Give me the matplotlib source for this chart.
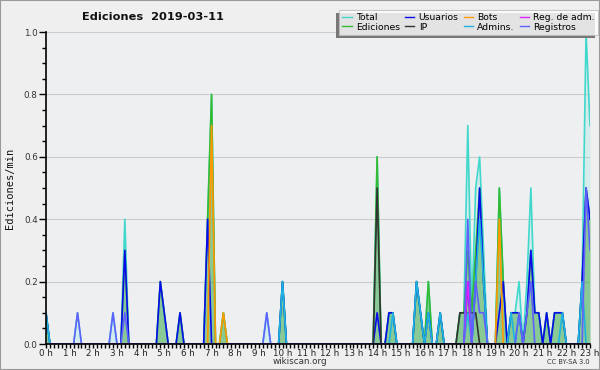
import numpy as np
import matplotlib
matplotlib.use("Agg")
import matplotlib.pyplot as plt
from matplotlib.patches import Rectangle

# 10-minute bins, 0h00 .. 23h00 (139 points), values in edits/min
total = [
    .1, 0, 0, 0, 0, 0, 0, 0, .1, 0, 0, 0,
    0, 0, 0, 0, 0, .1, 0, 0, .4, 0, 0, 0,
    0, 0, 0, 0, 0, .2, .1, 0, 0, 0, .1, 0,
    0, 0, 0, 0, 0, .4, .8, 0, 0, .1, 0, 0,
    0, 0, 0, 0, 0, 0, 0, 0, .1, 0, 0, 0,
    .2, 0, 0, 0, 0, 0, 0, 0, 0, 0, 0, 0,
    0, 0, 0, 0, 0, 0, 0, 0, 0, 0, 0, 0,
    .6, 0, 0, .1, .1, 0, 0, 0, 0, 0, .2, .1,
    0, .2, 0, 0, .1, 0, 0, 0, 0, .1, .1, .7,
    .1, .5, .6, .3, 0, 0, 0, .5, .2, 0, .1, .1,
    .2, 0, .2, .5, .1, .1, 0, .1, 0, .1, .1, .1,
    0, 0, 0, 0, .2, 1.0, .7]
ediciones = [
    .1, 0, 0, 0, 0, 0, 0, 0, 0, 0, 0, 0,
    0, 0, 0, 0, 0, 0, 0, 0, .3, 0, 0, 0,
    0, 0, 0, 0, 0, .2, .1, 0, 0, 0, .1, 0,
    0, 0, 0, 0, 0, .4, .8, 0, 0, .1, 0, 0,
    0, 0, 0, 0, 0, 0, 0, 0, 0, 0, 0, 0,
    .2, 0, 0, 0, 0, 0, 0, 0, 0, 0, 0, 0,
    0, 0, 0, 0, 0, 0, 0, 0, 0, 0, 0, 0,
    .6, 0, 0, .1, .1, 0, 0, 0, 0, 0, .2, .1,
    0, .2, 0, 0, .1, 0, 0, 0, 0, .1, .1, .3,
    .1, .3, .5, .2, 0, 0, 0, .5, .2, 0, .1, .1,
    .1, 0, .1, .3, .1, .1, 0, .1, 0, .1, .1, .1,
    0, 0, 0, 0, .2, .5, .4]
usuarios = [
    .1, 0, 0, 0, 0, 0, 0, 0, 0, 0, 0, 0,
    0, 0, 0, 0, 0, 0, 0, 0, .3, 0, 0, 0,
    0, 0, 0, 0, 0, .2, .1, 0, 0, 0, .1, 0,
    0, 0, 0, 0, 0, .4, 0, 0, 0, 0, 0, 0,
    0, 0, 0, 0, 0, 0, 0, 0, 0, 0, 0, 0,
    .2, 0, 0, 0, 0, 0, 0, 0, 0, 0, 0, 0,
    0, 0, 0, 0, 0, 0, 0, 0, 0, 0, 0, 0,
    .1, 0, 0, .1, .1, 0, 0, 0, 0, 0, .2, .1,
    0, .1, 0, 0, .1, 0, 0, 0, 0, 0, 0, .2,
    0, .2, .5, .2, 0, 0, 0, .1, .2, 0, .1, .1,
    .1, 0, .1, .3, .1, .1, 0, .1, 0, .1, .1, .1,
    0, 0, 0, 0, .2, .5, .4]
ip = [
    0, 0, 0, 0, 0, 0, 0, 0, 0, 0, 0, 0,
    0, 0, 0, 0, 0, 0, 0, 0, 0, 0, 0, 0,
    0, 0, 0, 0, 0, 0, 0, 0, 0, 0, 0, 0,
    0, 0, 0, 0, 0, 0, 0, 0, 0, 0, 0, 0,
    0, 0, 0, 0, 0, 0, 0, 0, 0, 0, 0, 0,
    0, 0, 0, 0, 0, 0, 0, 0, 0, 0, 0, 0,
    0, 0, 0, 0, 0, 0, 0, 0, 0, 0, 0, 0,
    .5, 0, 0, 0, 0, 0, 0, 0, 0, 0, 0, 0,
    0, 0, 0, 0, 0, 0, 0, 0, 0, .1, .1, .1,
    .1, .1, 0, 0, 0, 0, 0, 0, 0, 0, 0, 0,
    0, 0, 0, 0, 0, 0, 0, 0, 0, 0, 0, 0,
    0, 0, 0, 0, 0, 0, 0]
bots = [
    0, 0, 0, 0, 0, 0, 0, 0, 0, 0, 0, 0,
    0, 0, 0, 0, 0, 0, 0, 0, 0, 0, 0, 0,
    0, 0, 0, 0, 0, 0, 0, 0, 0, 0, 0, 0,
    0, 0, 0, 0, 0, 0, .7, 0, 0, .1, 0, 0,
    0, 0, 0, 0, 0, 0, 0, 0, 0, 0, 0, 0,
    0, 0, 0, 0, 0, 0, 0, 0, 0, 0, 0, 0,
    0, 0, 0, 0, 0, 0, 0, 0, 0, 0, 0, 0,
    0, 0, 0, 0, 0, 0, 0, 0, 0, 0, 0, 0,
    0, 0, 0, 0, 0, 0, 0, 0, 0, 0, 0, 0,
    0, 0, 0, 0, 0, 0, 0, .4, 0, 0, 0, 0,
    0, 0, 0, 0, 0, 0, 0, 0, 0, 0, 0, 0,
    0, 0, 0, 0, 0, 0, 0]
admins = [
    .1, 0, 0, 0, 0, 0, 0, 0, 0, 0, 0, 0,
    0, 0, 0, 0, 0, 0, 0, 0, 0, 0, 0, 0,
    0, 0, 0, 0, 0, 0, 0, 0, 0, 0, 0, 0,
    0, 0, 0, 0, 0, 0, 0, 0, 0, 0, 0, 0,
    0, 0, 0, 0, 0, 0, 0, 0, 0, 0, 0, 0,
    .2, 0, 0, 0, 0, 0, 0, 0, 0, 0, 0, 0,
    0, 0, 0, 0, 0, 0, 0, 0, 0, 0, 0, 0,
    0, 0, 0, 0, .1, 0, 0, 0, 0, 0, .2, .1,
    0, .1, 0, 0, .1, 0, 0, 0, 0, 0, 0, .1,
    0, .2, .4, .2, 0, 0, 0, 0, 0, 0, .1, 0,
    .1, 0, 0, 0, 0, 0, 0, 0, 0, 0, 0, .1,
    0, 0, 0, 0, .2, 0, 0]
reg_adm = [
    0, 0, 0, 0, 0, 0, 0, 0, 0, 0, 0, 0,
    0, 0, 0, 0, 0, 0, 0, 0, 0, 0, 0, 0,
    0, 0, 0, 0, 0, 0, 0, 0, 0, 0, 0, 0,
    0, 0, 0, 0, 0, 0, 0, 0, 0, 0, 0, 0,
    0, 0, 0, 0, 0, 0, 0, 0, 0, 0, 0, 0,
    0, 0, 0, 0, 0, 0, 0, 0, 0, 0, 0, 0,
    0, 0, 0, 0, 0, 0, 0, 0, 0, 0, 0, 0,
    0, 0, 0, 0, 0, 0, 0, 0, 0, 0, 0, 0,
    0, 0, 0, 0, 0, 0, 0, 0, 0, 0, 0, .2,
    0, 0, 0, 0, 0, 0, 0, 0, 0, 0, 0, 0,
    0, 0, 0, 0, 0, 0, 0, 0, 0, 0, 0, 0,
    0, 0, 0, 0, 0, 0, 0]
registros = [
    0, 0, 0, 0, 0, 0, 0, 0, .1, 0, 0, 0,
    0, 0, 0, 0, 0, .1, 0, 0, .1, 0, 0, 0,
    0, 0, 0, 0, 0, 0, 0, 0, 0, 0, 0, 0,
    0, 0, 0, 0, 0, 0, 0, 0, 0, 0, 0, 0,
    0, 0, 0, 0, 0, 0, 0, 0, .1, 0, 0, 0,
    0, 0, 0, 0, 0, 0, 0, 0, 0, 0, 0, 0,
    0, 0, 0, 0, 0, 0, 0, 0, 0, 0, 0, 0,
    0, 0, 0, 0, 0, 0, 0, 0, 0, 0, 0, 0,
    0, 0, 0, 0, 0, 0, 0, 0, 0, 0, 0, .4,
    0, .2, .1, .1, 0, 0, 0, 0, 0, 0, 0, 0,
    .1, 0, .1, .2, 0, 0, 0, 0, 0, 0, 0, 0,
    0, 0, 0, 0, 0, .5, .3]

hour_labels = [f"{h} h" for h in range(24)]
title = "Ediciones  2019-03-11"
ylabel = "Ediciones/min"

hours = np.arange(len(total)) / 6.0

BG = "#efefef"
fig = plt.figure(figsize=(6, 3.7), dpi=100, facecolor=BG)
ax = fig.add_axes([46/600, 1 - 344/370, 544/600, 312/370])
ax.set_facecolor("#eeeff1")

ax.fill_between(hours, total, color="#40e0d0", alpha=0.15, lw=0)
ax.plot(hours, total, color="#40d8cc", lw=1.2, label="Total")
ax.fill_between(hours, ediciones, color="#2ca02c", alpha=0.45, lw=0)
ax.plot(hours, ediciones, color="#33bb33", lw=1.2, label="Ediciones")
ax.plot(hours, usuarios, color="#0a0aee", lw=1.2, label="Usuarios")
ax.plot(hours, ip, color="#333333", lw=1.2, label="IP")
ax.plot(hours, bots, color="#ff9900", lw=1.2, label="Bots")
ax.plot(hours, admins, color="#1eb4e0", lw=1.2, label="Admins.")
ax.plot(hours, reg_adm, color="#dd22ff", lw=1.2, label="Reg. de adm.")
ax.plot(hours, registros, color="#6060ff", lw=1.2, label="Registros")

ax.set_xlim(0, 23)
ax.set_ylim(0, 1.0)
ax.set_xticks(range(24))
ax.set_xticklabels(hour_labels, fontsize=6.3, color="#222222")
ax.set_xticks(np.arange(0, 23.01, 1/6), minor=True)
ax.set_yticks(np.arange(0, 1.01, 0.2))
ax.set_yticklabels([f"{v:.1f}" for v in np.arange(0, 1.01, 0.2)], fontsize=6.3, color="#333333")
ax.set_yticks(np.arange(0, 1.001, 0.05), minor=True)
ax.tick_params(axis="x", which="major", length=3, width=1, pad=0.5)
ax.tick_params(axis="x", which="minor", length=3, width=1)
ax.tick_params(axis="y", which="major", length=5, width=1, pad=1)
ax.tick_params(axis="y", which="minor", length=3, width=1)
ax.grid(axis="y", color="#cccccc", lw=0.8)
ax.set_axisbelow(True)
for s in ["top", "right"]:
    ax.spines[s].set_visible(False)
ax.spines["left"].set_linewidth(1.2)
ax.spines["bottom"].set_linewidth(1.2)

fig.text(10/600, 1 - 188/370, ylabel, rotation=90, ha="center", va="center",
         fontsize=7.5, family="DejaVu Sans Mono", color="#111111")
fig.text(153/600, 1 - 17/370, title, ha="center", va="center",
         fontsize=8.2, fontweight="bold", color="#111111")
fig.text(300/600, 1 - 362/370, "wikiscan.org", ha="center", va="center",
         fontsize=6.3, color="#333333")
fig.text(590/600, 1 - 362/370, "CC BY-SA 3.0", ha="right", va="center",
         fontsize=4.8, color="#333333")

order_handles, order_labels = ax.get_legend_handles_labels()
leg = fig.legend(order_handles, order_labels, ncol=4,
                 loc="upper right", bbox_to_anchor=(598/600, 1 - 10/370),
                 fontsize=6.7, frameon=True, fancybox=False,
                 handlelength=1.0, handletextpad=0.45, columnspacing=0.55,
                 labelspacing=0.05, borderpad=0.35, borderaxespad=0)
leg.get_frame().set_edgecolor("#bbbbbb")
leg.get_frame().set_facecolor("white")
leg.get_frame().set_linewidth(0.8)
for line in leg.get_lines():
    line.set_linewidth(1.0)

fig.canvas.draw()
bb = leg.get_window_extent()
shadow = Rectangle((bb.x0 - 3, bb.y0 - 3), bb.width, bb.height,
                   transform=None, facecolor="#777777", edgecolor="none", zorder=leg.get_zorder() - 0.1)
fig.patches.append(shadow)

fig.patches.append(Rectangle((0, 0), 1, 1, transform=fig.transFigure, fill=False,
                             edgecolor="#999999", lw=1.5))
fig.savefig("out.png", dpi=100, facecolor=BG)
